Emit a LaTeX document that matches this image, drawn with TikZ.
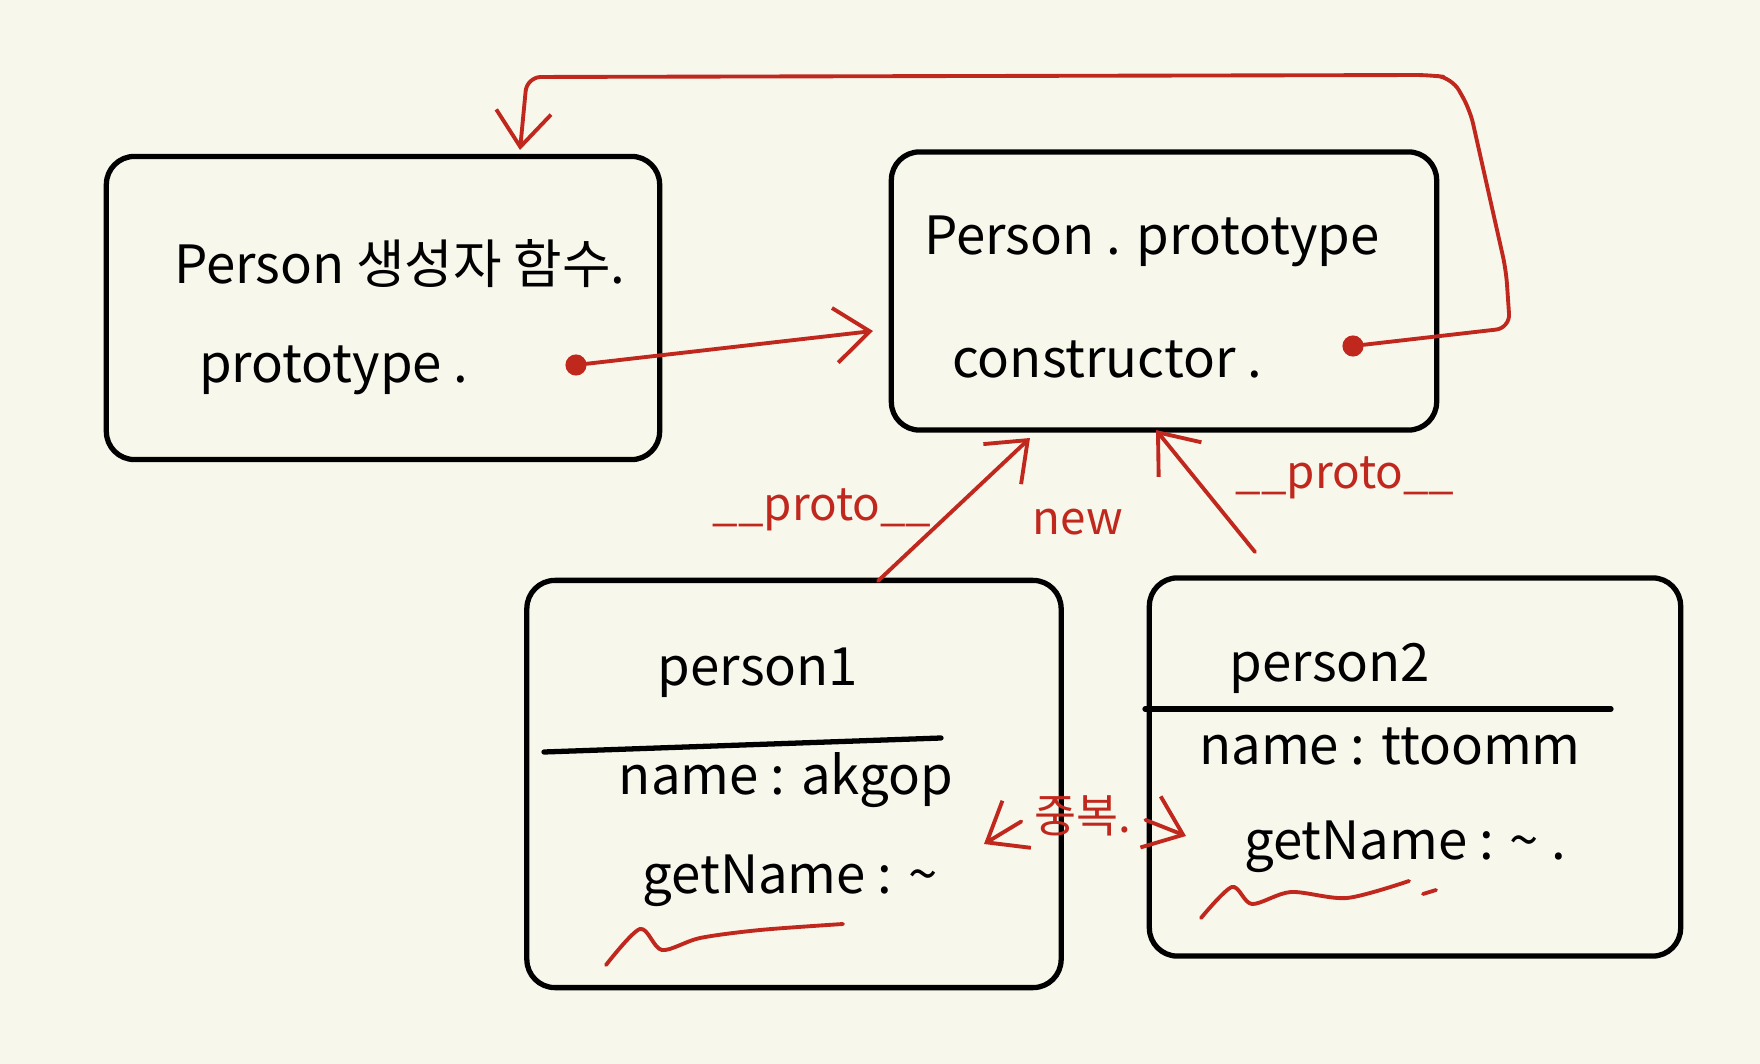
\documentclass[tikz,border=0pt]{standalone}
\usepackage{fontspec}
\setmainfont{Noto Sans CJK KR}
\usetikzlibrary{arrows.meta,positioning}
\definecolor{paper}{HTML}{F8F7EC}
\definecolor{penred}{HTML}{C0281E}

\begin{document}
\begin{tikzpicture}[x=0.01cm, y=-0.01cm, >={Straight Barb[length=3.5mm,width=5.5mm]},
  objbox/.style={draw, line width=1.5pt, rounded corners=8pt, inner sep=0pt},
  hand/.style={font=\fontsize{15}{18}\selectfont, inner sep=1pt},
  redtext/.style={font=\fontsize{13}{16}\selectfont, inner sep=1pt, text=penred},
  redline/.style={draw=penred, line width=1.1pt, line cap=round, line join=round},
  pendot/.style={circle, draw=penred, fill=penred, line width=1pt, minimum size=5pt, inner sep=0pt}]
\useasboundingbox (0,0) rectangle (1760,1064);
\fill[paper] (0,0) rectangle (1760,1064);

% object boxes
\node[objbox, minimum width=5.53cm, minimum height=3.03cm] (ctor) at (383,308) {};
\node[objbox, minimum width=5.45cm, minimum height=2.78cm] (proto) at (1164,291) {};
\node[objbox, minimum width=5.34cm, minimum height=4.07cm] (p1) at (794,784) {};
\node[objbox, minimum width=5.31cm, minimum height=3.78cm] (p2) at (1415,767) {};

% box contents
\node[hand, anchor=west] (ctorname) at (170,264) {Person 생성자 함수.};
\node[hand, anchor=west] (ctorproto) at (195,370) {prototype .};
\node[pendot] (pdot) at (576,365) {};
\node[hand, anchor=west] (protoname) at (920,241) {Person . prototype};
\node[hand, anchor=west] (protoctor) at (948,359) {constructor .};
\node[pendot] (cdot) at (1353,346) {};

\node[hand] (p1name) at (758,673) {person1};
\draw[line width=1.5pt, line cap=round] (544,752) -- (941,738);
\node[hand] (p1field) at (786,780) {name : akgop};
\node[hand] (p1method) at (790,881) {getName : \textasciitilde};

\node[hand] (p2name) at (1330,668) {person2};
\draw[line width=1.5pt, line cap=round] (1145,709) -- (1611,709);
\node[hand] (p2field) at (1390,746) {name : ttoomm};
\node[hand] (p2method) at (1405,847) {getName : \textasciitilde\ .};

% red labels
\node[redtext] (lproto) at (822,510) {\_\_proto\_\_};
\node[redtext] (newlbl) at (1078,522) {new};
\node[redtext] (rproto) at (1345,478) {\_\_proto\_\_};
\node[redtext] (dup) at (1083,816) {중복.};

% connectors
\coordinate (p2in) at (873,331);
\coordinate (looptip) at (520,150);
\coordinate (p1out) at (878,581);
\coordinate (p1in) at (1030,438);
\coordinate (p2out) at (1255,552);
\coordinate (p2in2) at (1156,430);
\coordinate (dupl) at (984,844);
\coordinate (dupr) at (1186,836);

\draw[redline, ->] (pdot) -- (p2in);
\draw[redline, ->, rounded corners=4pt] (cdot) -- (1510,328) -- (1506,270) -- (1470,110) -- (1452,78) -- (1430,75) -- (527,77) -- (looptip);
\draw[redline, ->] (p1out) -- (p1in);
\draw[redline, ->] (p2out) -- (p2in2);
\draw[redline, ->, shorten <=3pt] (dup.west) -- (dupl);
\draw[redline, ->, shorten <=3pt] (dup.east) -- (dupr);

% underlines
\draw[redline] plot[smooth] coordinates {(606,965) (640,929) (662,950) (700,938) (760,930) (843,924)};
\draw[redline] plot[smooth] coordinates {(1201,918) (1232,887) (1252,904) (1291,892) (1347,898) (1409,881)};
\draw[redline] (1423,894) -- (1436,890);
\end{tikzpicture}
\end{document}
